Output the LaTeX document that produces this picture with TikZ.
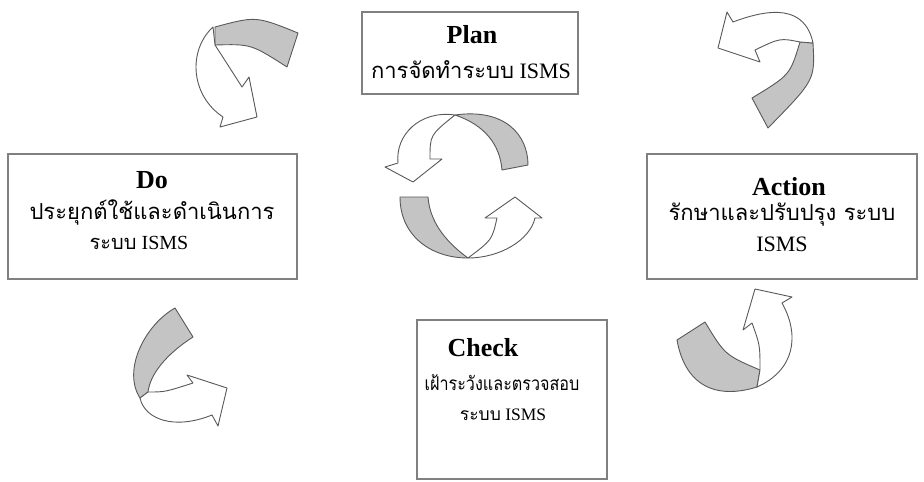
\documentclass[tikz,border=0pt]{standalone}
\usepackage{fontspec}
\usepackage{graphicx}
\setmainfont{Liberation Serif}
\newfontfamily\thai[Script=Thai]{Loma}
\begin{document}
\begin{tikzpicture}[x=1pt,y={(0pt,-1pt)},
  box/.style={draw=black!50,line width=1.5pt,fill=white,inner sep=0pt},
  ttl/.style={font=\fontsize{26}{28}\selectfont\bfseries,inner sep=0pt},
  txt/.style={font=\fontsize{22}{24}\selectfont,inner sep=0pt},
  band/.style={draw=black!65,line width=0.9pt,fill=black!23,line join=round},
  wht/.style={draw=black!65,line width=0.9pt,fill=white,line join=round}]
\useasboundingbox (0,0) rectangle (924,482);
% boxes
\node[box,minimum width=216pt,minimum height=82pt] (plan) at (470,53) {};
\node[box,minimum width=289pt,minimum height=125pt] (do) at (152.5,216.5) {};
\node[box,minimum width=270pt,minimum height=125pt] (act) at (782,216.5) {};
\node[box,minimum width=190pt,minimum height=159pt] (chk) at (512,399.5) {};
% texts
\node[ttl] (planT) at (472,35) {Plan};
\node[txt] (planL) at (471,70) {{\thai การจัดทำระบบ} ISMS};
\node[ttl] (doT) at (152,180) {Do};
\node[txt] (doL1) at (152,212) {\thai ประยุกต์ใช้และดำเนินการ};
\node[txt,font=\fontsize{20}{22}\selectfont] (doL2) at (139,243) {{\thai ระบบ} ISMS};
\node[ttl] (actT) at (789,187) {Action};
\node[txt] (actL1) at (782,215) {\thai รักษาและปรับปรุง ระบบ};
\node[txt] (actL2) at (782,244) {ISMS};
\node[ttl] (chkT) at (483,348) {Check};
\node[txt,font=\fontsize{19}{21}\selectfont] (chkL1) at (502,383) {\scalebox{0.85}[1]{\thai เฝ้าระวังและตรวจสอบ}};
\node[txt,font=\fontsize{17.5}{19}\selectfont] (chkL2) at (503,415) {{\thai ระบบ} ISMS};
% top-left arrow
\path[band] (215,27) .. controls (256,16) .. (298,33) -- (287,67) .. controls (251,44) .. (215,45) -- cycle;
\path[wht] (213,27) .. controls (188,50) and (190,95) .. (223,117) -- (220,127) -- (257,117) -- (249,77) -- (242,87) .. controls (226,62) .. (215,45) -- cycle;
% top-right arrow
\path[band] (800,42) -- (813,43) .. controls (815,80) .. (768,128) -- (752,98) .. controls (790,75) .. (800,42) -- cycle;
\path[wht] (800,42) .. controls (780,38) .. (755,50) -- (760,62) -- (718,48) -- (727,12) -- (733,22) .. controls (770,8) and (805,5) .. (813,43) -- cycle;
% bottom-right arrow
\path[band] (677,340) -- (705,322) .. controls (725,355) .. (760,370) -- (757,387) .. controls (715,400) and (685,385) .. (677,340) -- cycle;
\path[wht] (757,387) .. controls (795,370) and (800,335) .. (782,303) -- (792,297) -- (755,289) -- (743,330) -- (752,323) .. controls (760,345) .. (760,370) -- cycle;
% bottom-left arrow
\path[band] (175,308) -- (193,337) .. controls (165,355) and (150,375) .. (148,392) -- (140,398) .. controls (122,370) and (145,325) .. (175,308) -- cycle;
\path[wht] (148,392) .. controls (165,392) .. (193,383) -- (187,375) -- (227,388) -- (218,426) -- (212,415) .. controls (175,430) and (145,420) .. (140,398) -- cycle;
% central upper
\path[band] (455,115) .. controls (505,108) and (528,135) .. (528,165) -- (502,170) .. controls (500,145) and (485,125) .. (455,115) -- cycle;
\path[wht] (455,115) .. controls (420,110) and (395,135) .. (398,163) -- (385,167) -- (413,182) -- (442,159) -- (430,159) .. controls (430,135) .. (455,115) -- cycle;
% central lower
\path[band] (400,197) -- (428,197) .. controls (430,225) and (450,245) .. (468,258) .. controls (430,258) and (400,235) .. (400,197) -- cycle;
\path[wht] (468,258) .. controls (500,258) and (530,240) .. (535,218) -- (542,218) -- (515,197) -- (485,218) -- (497,218) .. controls (492,240) .. (468,258) -- cycle;
\end{tikzpicture}
\end{document}
